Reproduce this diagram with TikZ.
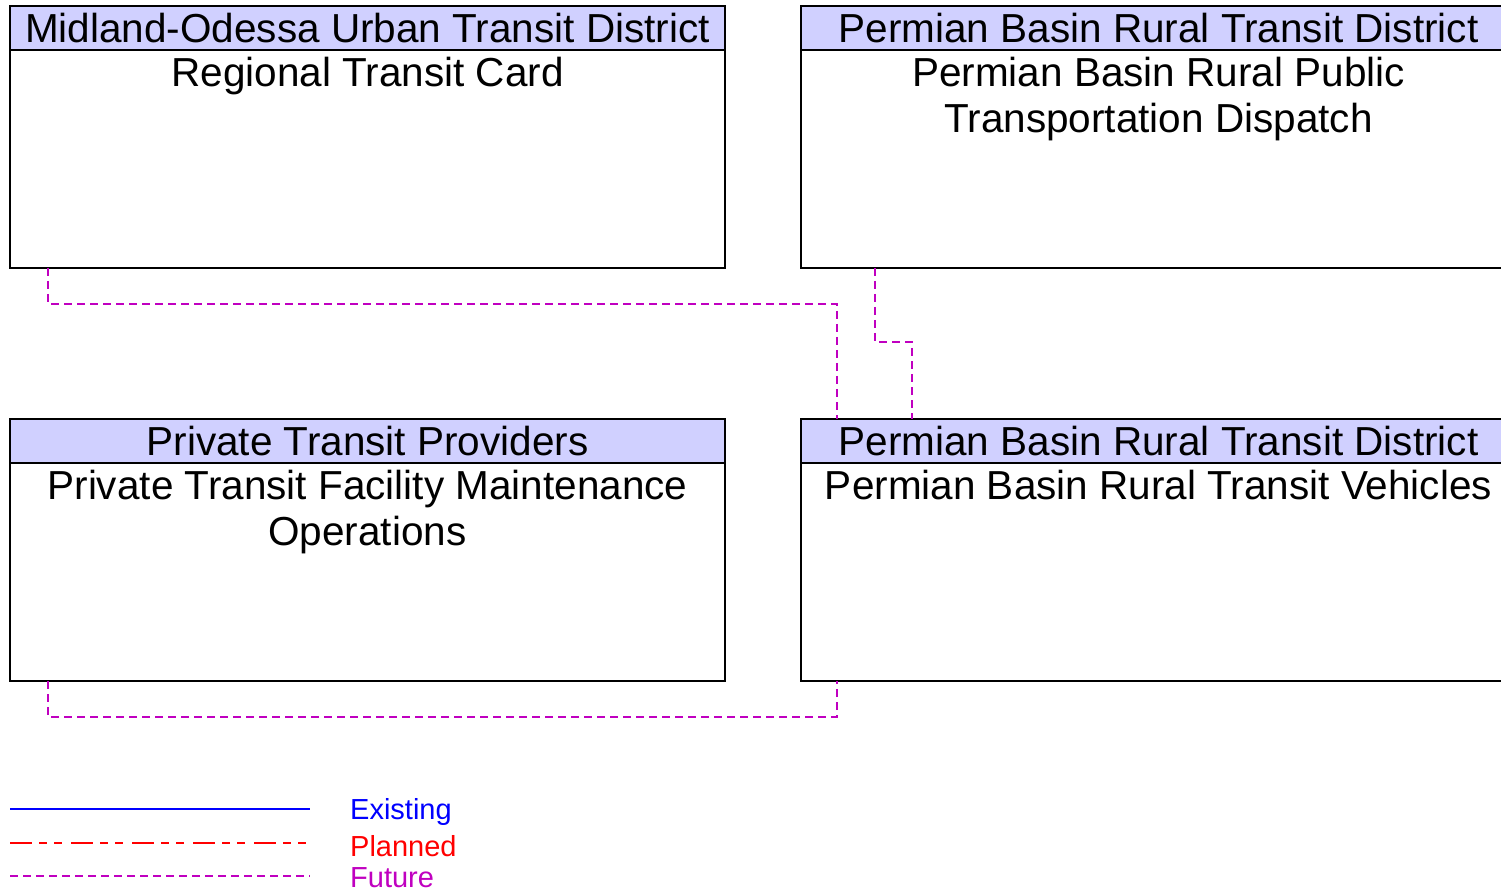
\documentclass[tikz,border=0pt]{standalone}
\usepackage{fontspec}
\setmainfont{Liberation Sans}
\definecolor{hdrfill}{RGB}{208,208,255}
\definecolor{futurec}{RGB}{192,0,192}
\begin{document}
\begin{tikzpicture}[x=1pt,y=-1pt,
  box/.style={draw=black,line width=1.3pt,fill=white,rectangle,anchor=north west,minimum width=715pt,minimum height=262pt,inner sep=0pt,outer sep=0pt},
  hdr/.style={draw=black,line width=1.3pt,fill=hdrfill,rectangle,anchor=north west,minimum width=715pt,minimum height=44pt,inner sep=0pt,outer sep=0pt,font=\fontsize{40.5}{46}\selectfont},
  body/.style={anchor=north,align=center,inner sep=0pt,font=\fontsize{40.5}{46}\selectfont},
  future/.style={draw=futurec,line width=1.3pt,dash pattern=on 8pt off 5pt},
  planned/.style={draw=red,line width=1.3pt,dash pattern=on 22pt off 7pt on 8pt off 7pt on 8pt off 9pt},
  existing/.style={draw=blue,line width=2.5pt},
  legtext/.style={anchor=west,inner sep=0pt,font=\fontsize{29}{33}\selectfont}]
\useasboundingbox (0,0) rectangle (1501,890);
\clip (0,0) rectangle (1501,890);
\fill[white] (0,0) rectangle (1501,890);

% boxes
\node[box] (A) at (10,6) {};
\node[hdr] (Ah) at (10,6) {Midland-Odessa Urban Transit District};
\node[body] (At) at ([yshift=-7pt]Ah.south) {Regional Transit Card};

\node[box] (B) at (801,6) {};
\node[hdr] (Bh) at (801,6) {Permian Basin Rural Transit District};
\node[body] (Bt) at ([yshift=-7pt]Bh.south) {Permian Basin Rural Public\\Transportation Dispatch};

\node[box] (C) at (10,419) {};
\node[hdr] (Ch) at (10,419) {Private Transit Providers};
\node[body] (Ct) at ([yshift=-7pt]Ch.south) {Private Transit Facility Maintenance\\Operations};

\node[box] (D) at (801,419) {};
\node[hdr] (Dh) at (801,419) {Permian Basin Rural Transit District};
\node[body] (Dt) at ([yshift=-7pt]Dh.south) {Permian Basin Rural Transit Vehicles};

% connectors
\draw[future] ([xshift=38pt]A.south west) -- ++(0,36) -| ([xshift=36pt]D.north west);
\draw[future] ([xshift=74pt]B.south west) -- ++(0,74) -| ([xshift=111pt]D.north west);
\draw[future] ([xshift=38pt]C.south west) -- ++(0,36) -| ([xshift=36pt]D.south west);

% legend
\coordinate (l1a) at (10,809); \coordinate (l1b) at (310,809);
\coordinate (l2a) at (10,843); \coordinate (l2b) at (310,843);
\coordinate (l3a) at (10,876); \coordinate (l3b) at (310,876);
\draw[existing] (l1a) -- (l1b);
\draw[planned] (l2a) -- (l2b);
\draw[future] (l3a) -- (l3b);
\node[legtext,text=blue] (le) at (350,812) {Existing};
\node[legtext,text=red] (lp) at (350,846) {Planned};
\node[legtext,text=futurec] (lf) at (350,878) {Future};
\end{tikzpicture}
\end{document}
